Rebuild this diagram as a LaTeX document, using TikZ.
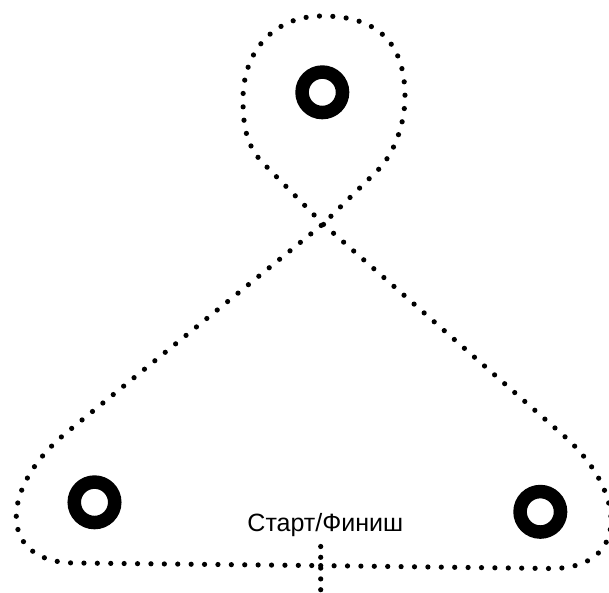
\documentclass[tikz,border=0pt]{standalone}
\usepackage{fontspec}
\setmainfont{Liberation Sans}
\tikzset{
  dotline/.style={line width=5.2pt, line cap=round, dash pattern=on 0pt off 13.4pt},
  dotvert/.style={line width=5.2pt, line cap=round, dash pattern=on 0pt off 10.8pt},
  ring/.style={circle, draw=black, line width=13.5pt, minimum size=40.5pt, inner sep=0pt},
  lbl/.style={font=\fontsize{25}{29}\selectfont, inner sep=0pt, anchor=base}
}
\begin{document}
\begin{tikzpicture}[x=1pt,y=-1pt]
\useasboundingbox (0,0) rectangle (609,592);
% rings
\node[ring] (ptop) at (322.3,92.3) {};
\node[ring] (pleft) at (94.5,502.3) {};
\node[ring] (pright) at (540.3,511.8) {};
% label
\node[lbl] (start) at (325.3,531.8) {Старт/Финиш};
% route
\coordinate (s) at (320.7,565.6);
\coordinate (x) at (323,224);
\draw[dotline] (s) -- (551,568.5)
  .. controls (631,568.5) and (627,491) .. (563,435)
  -- (x) -- (262,162)
  .. controls (245,144) and (243,122) .. (243,99)
  .. controls (243,51) and (274,16) .. (322,16)
  .. controls (377,16) and (405,42) .. (405,97)
  .. controls (405,122) and (395,153.5) .. (377,171)
  -- (x) -- (66,433)
  .. controls (0,487) and (-4,563) .. (76,563)
  -- cycle;
% start/finish marker
\coordinate (v1) at (320.7,546.5);
\coordinate (v2) at (320.7,600);
\draw[dotvert] (v1) -- (v2);
\end{tikzpicture}
\end{document}
